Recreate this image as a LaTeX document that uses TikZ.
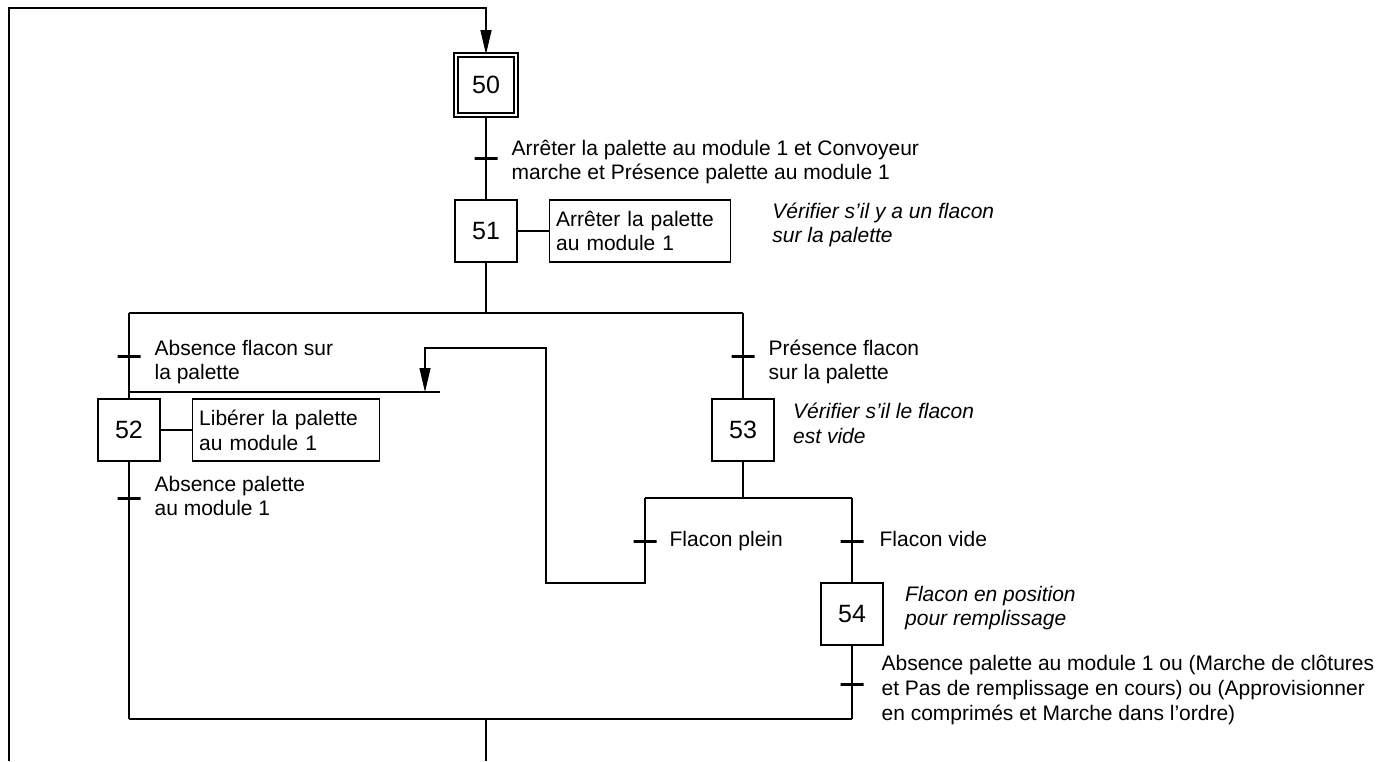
\documentclass[tikz,border=0pt]{standalone}
\usepackage{fontspec}
\setmainfont{Liberation Sans}
\usetikzlibrary{arrows.meta,positioning}

\begin{document}
\begin{tikzpicture}[
  x=0.5pt, y=-0.5pt,
  line width=0.6pt,
  node distance=15.5pt,
  every node/.style={font=\fontsize{10.5pt}{12.4pt}\selectfont},
  etape/.style={draw, minimum width=31pt, minimum height=31pt, inner sep=0pt,
                font=\fontsize{12.5pt}{14pt}\selectfont},
  etapeinit/.style={etape, double, line width=0.8pt, double distance=1.4pt,
                    minimum width=30pt, minimum height=30pt},
  action/.style={draw, align=left, minimum height=31pt, inner xsep=3.5pt},
  recep/.style={draw, line width=1.5pt, minimum width=11.5pt, minimum height=0pt, inner sep=0pt},
  cond/.style={align=left, inner sep=0pt, anchor=west},
  comm/.style={align=left, inner sep=0pt, font=\fontsize{10.5pt}{12.4pt}\selectfont\itshape},
  arr/.style={-{Triangle[length=12pt, width=5.5pt]}}
]
\useasboundingbox (0,0) rectangle (1397,761);

% etape initiale et etape 51
\node[etapeinit] (s50) at (486,85) {50};
\node[recep] (t50) at (486,158) {};
\node[cond, right=6pt of t50, yshift=-2pt] (c50) {Arrêter la palette au module 1 et Convoyeur\\marche et Présence palette au module 1};
\node[etape] (s51) at (486,231) {51};
\node[action, text width=83.5pt, right=of s51] (a51) {Arrêter la palette\\au module 1};
\node[comm, right=20.5pt of a51, yshift=3pt] (k51) {Vérifier s’il y a un flacon\\sur la palette};

% divergence en OU
\coordinate (d51) at (486,313);
\coordinate (dl) at (129,313);
\coordinate (dr) at (743,313);

% branche gauche
\node[recep] (t51a) at (129,356) {};
\node[cond, right=6pt of t51a, yshift=-3pt] (c51a) {Absence flacon sur\\la palette};
\coordinate (jl) at (129,392);
\coordinate (je) at (440,392);
\coordinate (jr) at (425,392);
\node[etape] (s52) at (129,430) {52};
\node[action, text width=86.5pt, right=of s52] (a52) {Libérer la palette\\au module 1};
\node[recep] (t52) at (129,498) {};
\node[cond, right=6pt of t52, yshift=1pt] (c52) {Absence palette\\au module 1};
\coordinate (cl) at (129,719);

% branche droite
\node[recep] (t51b) at (743,356) {};
\node[cond, right=6pt of t51b, yshift=-3pt] (c51b) {Présence flacon\\sur la palette};
\node[etape] (s53) at (743,430) {53};
\node[comm, right=9pt of s53, yshift=3.5pt] (k53) {Vérifier s’il le flacon\\est vide};
\coordinate (d53) at (743,498);
\coordinate (d53l) at (645,498);
\coordinate (d53r) at (852,498);
\node[recep] (t53a) at (645,541) {};
\node[cond, right=5.5pt of t53a] (c53a) {Flacon plein};
\node[recep] (t53b) at (852,541) {};
\node[cond, right=7pt of t53b, yshift=1pt] (c53b) {Flacon vide};
\coordinate (ret) at (546,583);
\coordinate (rtop) at (546,348);
\node[etape] (s54) at (852,614) {54};
\node[comm, right=10.5pt of s54, yshift=3pt] (k54) {Flacon en position\\pour remplissage};
\node[recep] (t54) at (852,684) {};
\node[cond, right=8pt of t54, yshift=-3pt] (c54) {Absence palette au module 1 ou (Marche de clôtures\\et Pas de remplissage en cours) ou (Approvisionner\\en comprimés et Marche dans l’ordre)};
\coordinate (cr) at (852,719);
\coordinate (cm) at (486,719);
\coordinate (bot) at (486,761);
\coordinate (lbot) at (9,761);
\coordinate (ltop) at (9,8);

\draw[arr] (lbot) -- (ltop) -| (s50);
\draw (s50) -- (t50) -- (s51);
\draw (s51) -- (a51);
\draw (s51) -- (d51);
\draw (dl) -- (dr);
\draw (dl) -- (t51a) -- (s52);
\draw (jl) -- (je);
\draw (s52) -- (a52);
\draw (s52) -- (t52) -- (cl);
\draw (cl) -- (cr);
\draw (cm) -- (bot);
\draw (dr) -- (t51b) -- (s53);
\draw (s53) -- (d53);
\draw (d53l) -- (d53r);
\draw (d53l) -- (t53a);
\draw[arr] (t53a) |- (ret) -- (rtop) -| (jr);
\draw (d53r) -- (t53b) -- (s54) -- (t54) -- (cr);
\end{tikzpicture}
\end{document}
